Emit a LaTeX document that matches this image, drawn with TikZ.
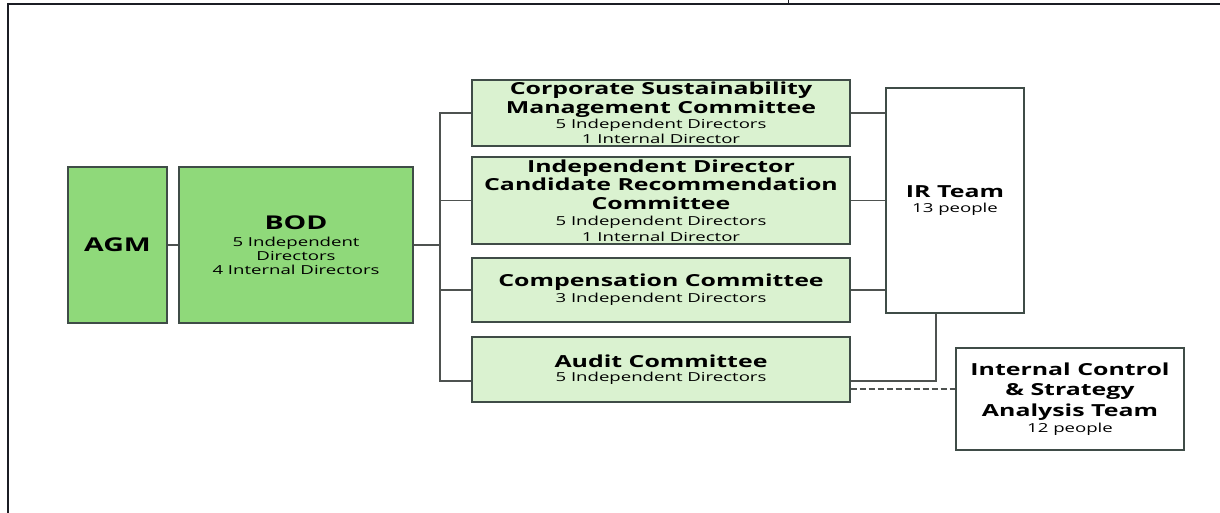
\documentclass[tikz,border=0pt]{standalone}
\usepackage{fontspec}
\setmainfont{Open Sans}[FakeStretch=1.5]
\usetikzlibrary{calc}
\definecolor{boardgreen}{HTML}{8FD97A}
\definecolor{cmtgreen}{HTML}{DAF2D0}
\definecolor{boxedge}{HTML}{3F4C47}
\definecolor{wire}{HTML}{4E5250}
\definecolor{frameline}{HTML}{1B1D24}
% every line sits 14pt below the previous one, plus the gap given to \\[..]
\newcommand{\boxfont}{\mdseries\fontsize{12.4}{14}\selectfont\lineskiplimit=-50pt\relax}
\newcommand{\ttlfont}{\bfseries\fontsize{16.6}{14}\selectfont}
\newcommand{\subfont}{\mdseries\fontsize{12.4}{14}\selectfont}
\newcommand{\bigfont}{\bfseries\fontsize{19}{14}\selectfont}
\begin{document}
\begin{tikzpicture}[x=1pt,y=-1pt,
  box/.style={draw=boxedge,line width=1.3pt,inner sep=0pt,align=center,text=black,
    font=\boxfont},
  board/.style={box,fill=boardgreen},
  cmt/.style={box,fill=cmtgreen,minimum width=378pt},
  team/.style={box,fill=white},
  link/.style={draw=wire,line width=1.2pt},
  dotlink/.style={link,dash pattern=on 6pt off 3pt}]
\useasboundingbox (0,0) rectangle (1220,513);
% page frame
\draw[frameline,line width=2.4pt] (7,4) -- (1220,4);
\draw[frameline,line width=2.4pt] (8,3) -- (8,513);
\draw[frameline,line width=1pt] (788,0) -- (788,4);

% board level
\node[board,minimum width=99pt,minimum height=156pt] (agm) at (117.5,245)
  {\bigfont AGM};
\node[board,minimum width=234pt,minimum height=156pt] (bod) at (296,245)
  {\bigfont BOD\\[3pt]\subfont 5 Independent\\\subfont Directors\\\subfont 4 Internal Directors};

% committees
\node[cmt,minimum height=66pt] (csmc) at (661,113)
  {\ttlfont Corporate Sustainability\\[5pt]\ttlfont Management Committee\\[0.5pt]\subfont 5 Independent Directors\\[1.5pt]\subfont 1 Internal Director};
\node[cmt,minimum height=87pt] (idcrc) at (661,200.5)
  {\ttlfont Independent Director\\[4.5pt]\ttlfont Candidate Recommendation\\[4.5pt]\ttlfont Committee\\[2pt]\subfont 5 Independent Directors\\[2pt]\subfont 1 Internal Director};
\node[cmt,minimum height=64pt] (comp) at (661,290)
  {\ttlfont Compensation Committee\\[2pt]\subfont 3 Independent Directors};
\node[cmt,minimum height=65pt] (audit) at (661,369.5)
  {\ttlfont Audit Committee\\[0.5pt]\subfont 5 Independent Directors};

% support teams
\node[team,minimum width=138pt,minimum height=225pt] (ir) at (955,200.5)
  {\ttlfont IR Team\\[0.5pt]\subfont 13 people};
\node[team,minimum width=228pt,minimum height=102pt] (ics) at (1070,399)
  {\ttlfont Internal Control\\[6.5pt]\ttlfont \& Strategy\\[7pt]\ttlfont Analysis Team\\[1.5pt]\subfont 12 people};

% connectors
\coordinate (bus) at (440,245);
\coordinate (auditL) at ([yshift=-11.5pt]audit.west);
\coordinate (auditR) at ([yshift=-11.5pt]audit.east);
\coordinate (auditD) at ([yshift=-19.5pt]audit.east);
\coordinate (irfoot) at ([xshift=-19pt]ir.south);
\draw[link] (agm) -- (bod);
\draw[link] (bod.east) -- (bus);
\draw[link] (csmc.west) -| (bus);
\draw[link] (idcrc.west) -| (bus);
\draw[link] (comp.west) -| (bus);
\draw[link] (auditL) -| (bus);
\draw[link] (csmc.east) -- (csmc.east -| ir.west);
\draw[link] (idcrc.east) -- (idcrc.east -| ir.west);
\draw[link] (comp.east) -- (comp.east -| ir.west);
\draw[link] (irfoot) |- (auditR);
\draw[dotlink] (auditD) -- (auditD -| ics.west);
\end{tikzpicture}
\end{document}
